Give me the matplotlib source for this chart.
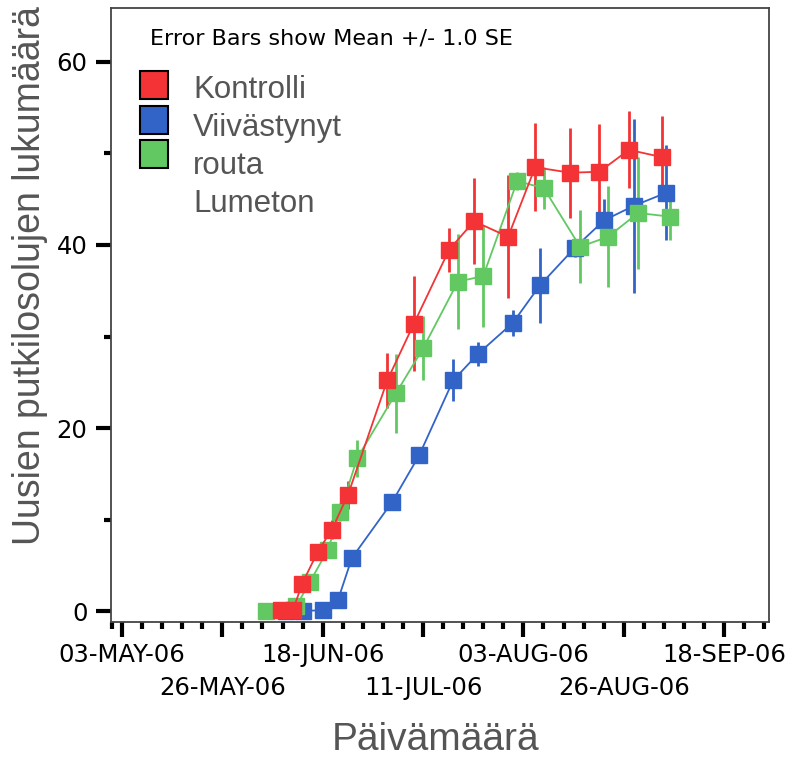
import datetime as dt
import numpy as np
import matplotlib
matplotlib.use('Agg')
import matplotlib.pyplot as plt
import matplotlib.dates as mdates
from matplotlib.ticker import FixedLocator, FuncFormatter

# days after 03-MAY-06, mean and SE for each treatment
kontrolli_day = [36.5, 39.2, 41.3, 44.9, 48.1, 51.8, 60.8, 66.9, 75.0, 80.7, 88.5, 94.7, 102.7, 109.4, 116.2, 123.8]
kontrolli_val = [0.1, 0.1, 3.0, 6.5, 8.9, 12.7, 25.2, 31.4, 39.5, 42.6, 40.9, 48.5, 47.9, 48.0, 50.4, 49.6]
kontrolli_se = [0.3, 0.5, 0.8, 0.8, 1.0, 1.5, 3.0, 5.2, 2.4, 4.7, 6.7, 4.8, 4.9, 5.2, 4.2, 4.5]

viiv_day = [37.6, 41.5, 46.1, 49.5, 52.7, 61.9, 68.1, 75.9, 81.6, 89.6, 95.8, 103.8, 110.5, 117.4, 124.7]
viiv_val = [0.0, 0.0, 0.1, 1.2, 5.8, 11.9, 17.0, 25.2, 28.1, 31.5, 35.6, 39.7, 42.7, 44.3, 45.7]
viiv_se = [0.1, 0.2, 0.3, 0.4, 0.5, 0.6, 0.7, 2.3, 1.3, 1.4, 4.1, 1.0, 2.3, 9.5, 5.2]

lumeton_day = [33.0, 39.9, 43.1, 47.2, 50.0, 53.9, 62.8, 69.0, 77.0, 82.8, 90.6, 96.7, 105.0, 111.4, 118.3, 125.6]
lumeton_val = [0.0, 0.5, 3.2, 6.7, 10.8, 16.7, 23.8, 28.7, 36.0, 36.6, 47.0, 46.2, 39.8, 40.9, 43.5, 43.1]
lumeton_se = [0.1, 0.4, 0.6, 0.8, 1.0, 2.0, 4.3, 3.5, 5.2, 5.6, 1.0, 2.3, 4.0, 5.5, 6.1, 2.6]

legend_labels = ['Kontrolli', 'Viivästynyt', 'routa', 'Lumeton']
tick_dates = ['2006-05-03', '2006-05-26', '2006-06-18', '2006-07-11',
              '2006-08-03', '2006-08-26', '2006-09-18']

red, blue, green = '#f33336', '#3264c8', '#62c862'
gray_txt = '#555555'

base = mdates.date2num(dt.datetime(2006, 5, 3))

fig = plt.figure(figsize=(7.9, 7.59), dpi=100)
ax = fig.add_axes([111/790, 1 - 622/759, 658/790, 614/759])

series = [
    (viiv_day, viiv_val, viiv_se, blue),
    (lumeton_day, lumeton_val, lumeton_se, green),
    (kontrolli_day, kontrolli_val, kontrolli_se, red),
]
for days, vals, se, col in series:
    x = base + np.array(days)
    ax.errorbar(x, vals, yerr=se, color=col, ecolor=col, elinewidth=2.0,
                capsize=0, lw=1.3, marker='s', ms=11, mec=col, mfc=col)

ax.set_ylim(-1.2, 65.9)
ax.set_xlim(base - 2.52, base + 148.3)

# x axis: major every 23 days, 4 minor in between
majors = [mdates.date2num(dt.datetime.strptime(d, '%Y-%m-%d')) for d in tick_dates]
minors = [m + k * 4.6 for m in majors for k in range(1, 5)]
minors = [m for m in minors if m < base + 148.3]
minors += [majors[0] - 2.3]
ax.xaxis.set_major_locator(FixedLocator(majors))
ax.xaxis.set_minor_locator(FixedLocator(minors))

def date_label(v):
    return mdates.num2date(v).strftime('%d-%b-%y').upper()

# first row: every other major tick, second row drawn below
ax.xaxis.set_major_formatter(FuncFormatter(
    lambda v, pos: date_label(v) if pos % 2 == 0 else ''))
for i, m in enumerate(majors):
    if i % 2 == 1:
        ax.annotate(date_label(m), xy=(m, 0), xycoords=('data', 'axes fraction'),
                    xytext=(0, -47.5), textcoords='offset points',
                    ha='center', va='center', fontsize=17.5,
                    family='DejaVu Sans')

ax.yaxis.set_major_locator(FixedLocator([0, 20, 40, 60]))
ax.yaxis.set_minor_locator(FixedLocator([10, 30, 50]))

for lab in ax.get_xticklabels() + ax.get_yticklabels():
    lab.set_family('DejaVu Sans')
    lab.set_fontsize(17.5)

ax.tick_params(which='major', length=11, width=3, color='black', pad=4)
ax.tick_params(which='minor', length=5, width=3, color='black')
ax.tick_params(axis='y', which='major', pad=6)
for sp in ax.spines.values():
    sp.set_color('#444444')
    sp.set_linewidth(1.3)

# legend drawn as text and square markers
fig.text(150/790, 1 - 38/759, 'Error Bars show Mean +/- 1.0 SE',
         fontsize=16, family='DejaVu Sans', va='center', ha='left')
leg_cols = [red, blue, green]
for i, col in enumerate(leg_cols):
    ax.plot([0.0655], [1 - (77 + 34.5 * i) / 614], transform=ax.transAxes,
            marker='s', ms=20, mfc=col, mec='black', mew=1.5, clip_on=False)
for i, lab in enumerate(legend_labels):
    ax.text(0.125, 1 - (82 + 38 * i) / 614, lab, transform=ax.transAxes,
            fontsize=22.5, family='Liberation Sans', color=gray_txt,
            va='center', ha='left')

fig.text(30/790, 1 - 276/759, 'Uusien putkilosolujen lukumäärä', rotation=90,
         fontsize=27, family='Liberation Sans', color=gray_txt,
         ha='center', va='center')
fig.text(436/790, 1 - 750/759, 'Päivämäärä', fontsize=28,
         family='Liberation Sans', color=gray_txt, ha='center', va='baseline')

fig.savefig('out.png', dpi=100)
